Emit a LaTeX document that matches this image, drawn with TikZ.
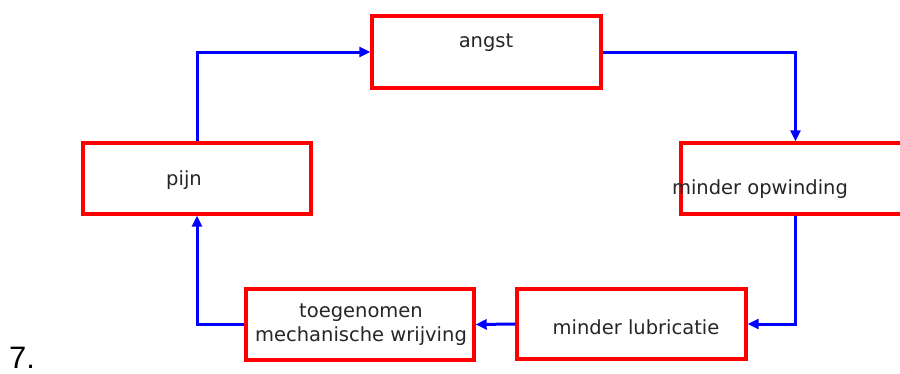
\documentclass[tikz,border=0pt]{standalone}
\usepackage{fontspec}
\setmainfont{DejaVu Sans}
\newfontfamily\arialfont{Liberation Sans}
\usetikzlibrary{arrows.meta}
\begin{document}
\begin{tikzpicture}[x=1pt,y=-1pt,
  box/.style={draw=red,line width=3.4pt,fill=white,inner sep=0pt},
  lbl/.style={font=\fontsize{19.5}{25}\selectfont,text=black!85,inner sep=0pt,anchor=base},
  conn/.style={draw=blue,line width=3pt,-{Triangle[length=11pt,width=10pt]}}]
\useasboundingbox (0,0) rectangle (900,373);
\fill[white] (0,0) rectangle (900,373);
% boxes
\node[box,minimum width=229pt,minimum height=72pt] (angst) at (486.5,52) {};
\node[box,minimum width=229pt,minimum height=71pt] (opw) at (795.5,178.5) {};
\node[box,minimum width=228pt,minimum height=71pt] (pijn) at (197,178.5) {};
\node[box,minimum width=228pt,minimum height=71pt] (toe) at (360,324.5) {};
\node[box,minimum width=229pt,minimum height=70pt] (lub) at (631.5,324) {};
% texts
\node[lbl] (tangst) at (486,47) {angst};
\node[lbl] (topw) at (760,194) {minder opwinding};
\node[lbl] (tpijn) at (184,185) {pijn};
\node[lbl] (ttoe1) at (361,317) {toegenomen};
\node[lbl] (ttoe2) at (361,341) {mechanische wrijving};
\node[lbl] (tlub) at (636,334) {minder lubricatie};
\node[inner sep=0pt,anchor=base west,font=\arialfont\fontsize{31}{31}\selectfont] (seven) at (9,368) {7.};
% connectors
\draw[conn] (pijn.north) |- (angst.west);
\draw[conn] (angst.east) -| (opw.north);
\draw[conn] (opw.south) |- (lub.east);
\draw[conn] (lub.west) -- (toe.east);
\draw[conn] (toe.west) -| (pijn.south);
\end{tikzpicture}
\end{document}
